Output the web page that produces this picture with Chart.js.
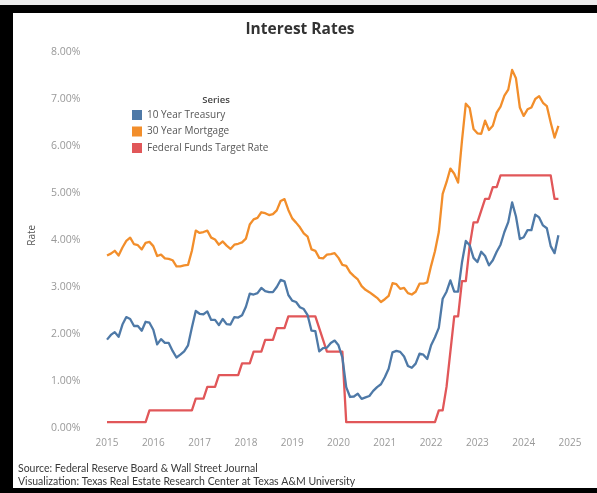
<!DOCTYPE html>
<html>
<head>
<meta charset="utf-8">
<title>Interest Rates</title>
<script src="https://cdn.jsdelivr.net/npm/chart.js@4"></script>
<style>
  html, body { margin: 0; padding: 0; background: #fff; }
  #wrap { position: relative; width: 597px; height: 493px; }
</style>
</head>
<body>
<div id="wrap"><canvas id="ratesChart" width="597" height="493"></canvas></div>
<script>
// Monthly averages, Jan 2015 - Oct 2024
const startYear = 2015;

const treasury10 = [
  1.88, 1.98, 2.04, 1.94, 2.20, 2.36, 2.32, 2.17, 2.17, 2.07, 2.26, 2.24, // 2015
  2.09, 1.78, 1.89, 1.81, 1.81, 1.64, 1.50, 1.56, 1.63, 1.76, 2.14, 2.49, // 2016
  2.43, 2.42, 2.48, 2.30, 2.30, 2.19, 2.32, 2.21, 2.20, 2.36, 2.35, 2.40, // 2017
  2.58, 2.86, 2.84, 2.87, 2.98, 2.91, 2.89, 2.89, 3.00, 3.15, 3.12, 2.83, // 2018
  2.71, 2.68, 2.57, 2.53, 2.40, 2.07, 2.06, 1.63, 1.70, 1.71, 1.81, 1.86, // 2019
  1.76, 1.50, 0.87, 0.66, 0.67, 0.73, 0.62, 0.65, 0.68, 0.79, 0.87, 0.93, // 2020
  1.08, 1.26, 1.61, 1.64, 1.62, 1.52, 1.32, 1.28, 1.37, 1.58, 1.56, 1.47, // 2021
  1.76, 1.93, 2.13, 2.75, 2.90, 3.14, 2.90, 2.90, 3.52, 3.98, 3.89, 3.62, // 2022
  3.53, 3.75, 3.66, 3.46, 3.57, 3.75, 3.90, 4.17, 4.38, 4.80, 4.50, 4.02, // 2023
  4.06, 4.21, 4.21, 4.54, 4.48, 4.31, 4.25, 3.87, 3.72, 4.10              // 2024
];

const mortgage30 = [
  3.67, 3.71, 3.77, 3.67, 3.84, 3.98, 4.05, 3.91, 3.89, 3.80, 3.94, 3.96,
  3.87, 3.66, 3.69, 3.61, 3.60, 3.57, 3.44, 3.44, 3.46, 3.47, 3.77, 4.20,
  4.15, 4.17, 4.20, 4.05, 4.01, 3.90, 3.97, 3.88, 3.81, 3.90, 3.92, 3.95,
  4.03, 4.33, 4.44, 4.47, 4.59, 4.57, 4.53, 4.55, 4.63, 4.83, 4.87, 4.64,
  4.46, 4.37, 4.27, 4.14, 4.07, 3.80, 3.77, 3.62, 3.61, 3.69, 3.70, 3.72,
  3.62, 3.47, 3.45, 3.31, 3.23, 3.16, 3.02, 2.94, 2.89, 2.83, 2.77, 2.68,
  2.74, 2.81, 3.08, 3.06, 2.96, 2.98, 2.87, 2.84, 2.90, 3.07, 3.07, 3.10,
  3.45, 3.76, 4.17, 4.98, 5.23, 5.52, 5.41, 5.22, 6.11, 6.90, 6.81, 6.36,
  6.27, 6.26, 6.54, 6.34, 6.43, 6.71, 6.84, 7.07, 7.20, 7.62, 7.44, 6.82,
  6.64, 6.78, 6.82, 7.00, 7.06, 6.92, 6.85, 6.50, 6.18, 6.43
];

// midpoint of the target range
const fedFunds = [
  0.125, 0.125, 0.125, 0.125, 0.125, 0.125, 0.125, 0.125, 0.125, 0.125, 0.125, 0.375,
  0.375, 0.375, 0.375, 0.375, 0.375, 0.375, 0.375, 0.375, 0.375, 0.375, 0.375, 0.625,
  0.625, 0.625, 0.875, 0.875, 0.875, 1.125, 1.125, 1.125, 1.125, 1.125, 1.125, 1.375,
  1.375, 1.375, 1.625, 1.625, 1.625, 1.875, 1.875, 1.875, 2.125, 2.125, 2.125, 2.375,
  2.375, 2.375, 2.375, 2.375, 2.375, 2.375, 2.375, 2.125, 1.875, 1.625, 1.625, 1.625,
  1.625, 1.625, 0.125, 0.125, 0.125, 0.125, 0.125, 0.125, 0.125, 0.125, 0.125, 0.125,
  0.125, 0.125, 0.125, 0.125, 0.125, 0.125, 0.125, 0.125, 0.125, 0.125, 0.125, 0.125,
  0.125, 0.125, 0.375, 0.375, 0.875, 1.625, 2.375, 2.375, 3.125, 3.125, 3.875, 4.375,
  4.375, 4.625, 4.875, 4.875, 5.125, 5.125, 5.375, 5.375, 5.375, 5.375, 5.375, 5.375,
  5.375, 5.375, 5.375, 5.375, 5.375, 5.375, 5.375, 5.375, 4.875, 4.875
];

const seriesNames = ["10 Year Treasury", "30 Year Mortgage", "Federal Funds Target Rate"];
const seriesColors = ["#4e79a7", "#f28e2b", "#e15759"];
const yearTicks = [2015, 2016, 2017, 2018, 2019, 2020, 2021, 2022, 2023, 2024, 2025];
const rateTicks = [0, 1, 2, 3, 4, 5, 6, 7, 8];

const toPoints = arr => arr.map((v, i) => ({ x: startYear + i / 12, y: v }));

// black frame around the sheet
const framePlugin = {
  id: "frame",
  beforeDraw(chart) {
    const { ctx, width, height } = chart;
    ctx.save();
    ctx.fillStyle = "#ffffff";
    ctx.fillRect(0, 0, width, height);
    ctx.fillStyle = "#ececec";
    ctx.fillRect(0, 0, width, 5);
    ctx.fillStyle = "#000000";
    ctx.fillRect(0, 5, width, 8);
    ctx.fillRect(0, 5, 13, height - 5);
    ctx.fillRect(0, 488, width, height - 488);
    ctx.restore();
  }
};

// title, legend box and source notes
const notesPlugin = {
  id: "notes",
  afterDraw(chart) {
    const { ctx } = chart;
    ctx.save();
    ctx.textBaseline = "middle";

    ctx.fillStyle = "#333333";
    ctx.font = "bold 15.5px 'Open Sans'";
    ctx.textAlign = "center";
    ctx.fillText("Interest Rates", 300, 30);

    ctx.font = "600 9.5px 'Open Sans'";
    ctx.fillStyle = "#444444";
    ctx.fillText("Series", 216, 100);

    ctx.textAlign = "left";
    ctx.font = "10px 'Open Sans'";
    chart.data.datasets.forEach((ds, i) => {
      const y = 115 + i * 16.5;
      ctx.fillStyle = ds.borderColor;
      ctx.fillRect(132, y - 5, 10, 10);
      ctx.fillStyle = "#555555";
      ctx.fillText(ds.label, 147, y);
    });

    ctx.fillStyle = "#3a3a3a";
    ctx.font = "10.5px Lato";
    ctx.fillText("Source: Federal Reserve Board & Wall Street Journal", 18, 469);
    ctx.fillText("Visualization: Texas Real Estate Research Center at Texas A&M University", 18, 482);
    ctx.restore();
  }
};

const ratesCtx = document.getElementById("ratesChart").getContext("2d");
new Chart(ratesCtx, {
  type: "line",
  data: {
    datasets: [treasury10, mortgage30, fedFunds].map((arr, i) => ({
      label: seriesNames[i],
      data: toPoints(arr),
      borderColor: seriesColors[i],
      backgroundColor: seriesColors[i],
      borderWidth: 2.3,
      pointRadius: 0,
      tension: 0,
      borderJoinStyle: "round",
      fill: false
    }))
  },
  options: {
    responsive: false,
    animation: false,
    layout: { padding: { left: 14, right: 8.5, top: 37.9, bottom: 40.3 } },
    plugins: {
      legend: { display: false },
      tooltip: { enabled: false }
    },
    scales: {
      x: {
        type: "linear",
        min: 2014.6,
        max: 2025.4,
        grid: { display: false, drawTicks: false },
        border: { display: false },
        afterBuildTicks: scale => { scale.ticks = yearTicks.map(v => ({ value: v })); },
        afterFit: scale => { scale.height = 20; },
        ticks: {
          padding: 4,
          color: "#999999",
          font: { family: "'Open Sans'", size: 10 },
          callback: v => String(v)
        }
      },
      y: {
        min: -0.1,
        max: 8.3,
        grid: { display: false, drawTicks: false },
        border: { display: false },
        afterBuildTicks: scale => { scale.ticks = rateTicks.map(v => ({ value: v })); },
        afterFit: scale => { scale.width = 74.5; },
        title: {
          display: true,
          text: "Rate",
          color: "#555555",
          font: { family: "'Open Sans'", size: 10 },
          padding: { top: 12, bottom: 0 }
        },
        ticks: {
          padding: 8,
          color: "#999999",
          font: { family: "'Open Sans'", size: 10.5 },
          callback: v => v.toFixed(2) + "%"
        }
      }
    }
  },
  plugins: [framePlugin, notesPlugin]
});
</script>
</body>
</html>
